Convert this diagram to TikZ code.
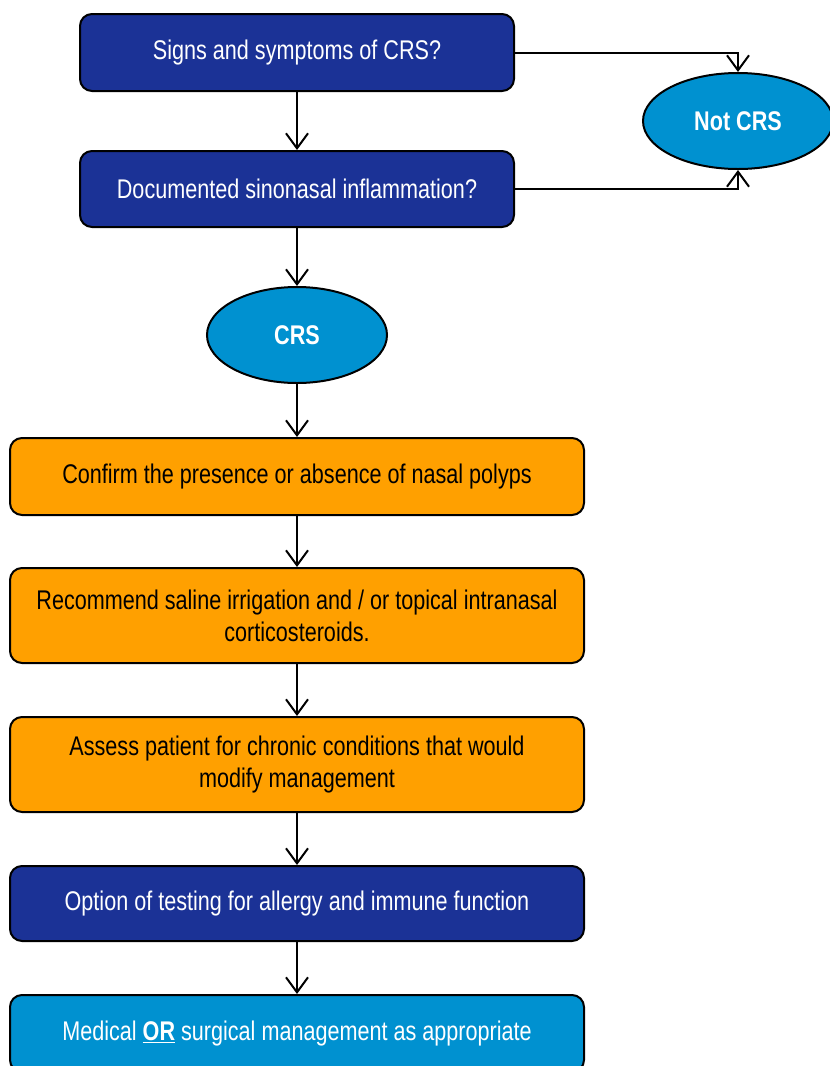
\documentclass[tikz,border=0pt]{standalone}
\usepackage{fontspec}
\setmainfont{Liberation Sans}[FakeStretch=0.8]
\usetikzlibrary{shapes.geometric,arrows.meta}
\definecolor{dblue}{RGB}{27,50,150}
\definecolor{lblue}{RGB}{0,145,208}
\definecolor{orng}{RGB}{255,160,0}
\tikzset{
  box/.style={draw=black, line width=2pt, rounded corners=12pt, inner sep=4pt, align=center,
    font=\fontsize{27}{32}\selectfont},
  darkbox/.style={box, fill=dblue, text=white},
  orangebox/.style={box, fill=orng, text=black},
  lightbox/.style={box, fill=lblue, text=white},
  oval/.style={ellipse, draw=black, line width=2pt, fill=lblue, text=white, inner sep=0pt,
    font=\fontsize{27}{32}\selectfont\bfseries},
  conn/.style={line width=2pt, -{Straight Barb[length=15pt,width=22pt,line width=2pt]}},
}
\begin{document}
\begin{tikzpicture}[x=1pt,y=1pt]
\useasboundingbox (0,0) rectangle (830,-1066);
\node[darkbox, minimum width=434pt, minimum height=77pt] (b1) at (297,-52.5) {Signs and symptoms of CRS?};
\node[darkbox, minimum width=434pt, minimum height=76pt] (b2) at (297,-189) {Documented sinonasal inflammation?};
\node[oval, minimum width=190pt, minimum height=96pt] (notcrs) at (738,-121) {Not CRS};
\node[oval, minimum width=180pt, minimum height=96pt] (crs) at (297,-335) {CRS};
\node[orangebox, minimum width=574pt, minimum height=77pt] (b3) at (297,-476.5) {Confirm the presence or absence of nasal polyps};
\node[orangebox, minimum width=574pt, minimum height=95pt] (b4) at (297,-615.5) {Recommend saline irrigation and / or topical intranasal\\corticosteroids.};
\node[orangebox, minimum width=574pt, minimum height=95pt] (b5) at (297,-764.5) {Assess patient for chronic conditions that would\\modify management};
\node[darkbox, minimum width=574pt, minimum height=75pt] (b6) at (297,-903.5) {Option of testing for allergy and immune function};
\node[lightbox, minimum width=574pt, minimum height=77pt] (b7) at (297,-1033.5) {Medical \underline{\textbf{OR}} surgical management as appropriate};
\draw[conn] (b1) -- (b2);
\draw[conn] (b2) -- (crs);
\draw[conn] (crs) -- (b3);
\draw[conn] (b3) -- (b4);
\draw[conn] (b4) -- (b5);
\draw[conn] (b5) -- (b6);
\draw[conn] (b6) -- (b7);
\draw[conn] (b1.east) -| (notcrs.north);
\draw[conn] (b2.east) -| (notcrs.south);
\end{tikzpicture}
\end{document}
